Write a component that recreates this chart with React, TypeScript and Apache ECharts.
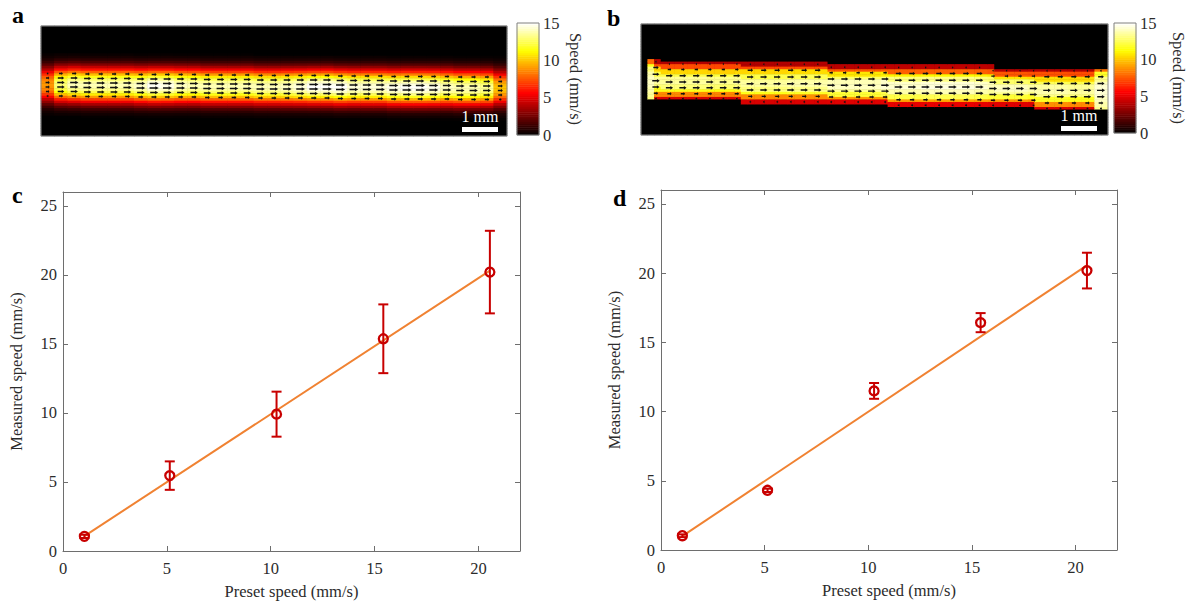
import React, { useEffect, useRef } from "react";
import * as echarts from "echarts";

const FONT = '"Liberation Serif", "Times New Roman", Times, serif';
const RED = "#c80000";
const ORANGE = "#f08232";
const AXIS = "#6e6e6e";
const TEXT = "#2b2b2b";

// ---------- Panels c and d (scatter + error bars + fit) ----------
const presetSpeed = [1.03, 5.14, 10.28, 15.42, 20.55];
const measuredC = [1.06, 5.46, 9.91, 15.37, 20.2];
const errorC = [0.12, 1.03, 1.63, 2.49, 2.99];
const measuredD = [1.03, 4.31, 11.49, 16.42, 20.18];
const errorD = [0.1, 0.12, 0.57, 0.69, 1.29];
const fitXC = [1.03, 20.55];
const fitYC = [1.08, 20.3];
const fitXD = [1.03, 20.55];
const fitYD = [1.0, 20.56];
const X_MAX = 22;
const Y_MAX = 26;
const TICK_STEP = 5;
const X_NAME = "Preset speed (mm/s)";
const Y_NAME = "Measured speed (mm/s)";

// ---------- Panels a and b (speed maps) ----------
const SPEED_MIN = 0;
const SPEED_MAX = 15;
const SPEED_STEP = 5;
const CBAR_NAME = "Speed (mm/s)";
const hotColors = ["#000000", "#550000", "#aa0000", "#ff0000", "#ff5500", "#ffaa00", "#ffff00", "#ffff80", "#ffffff"];

// panel a: peak speed per column (35 columns), band centre (px from image top), cross profile per 2.5 px
const aPeak = [9, 13, 14, 14, 14, 14, 14, 14.3, 15, 14.8, 14.2, 14, 14, 14, 14, 14, 14, 14, 14.2, 14.5, 15, 15, 15, 14.5, 14.5, 14.5, 14.8, 15, 15, 14.8, 14.2, 14, 14, 13.5, 10];
const aCenter = [59, 59, 59, 59.5, 59.5, 59.5, 59.5, 60, 60, 60, 60, 60, 60.5, 60.5, 60.5, 60.5, 61, 61, 61, 61, 61, 61, 61.5, 61.5, 61.5, 61.5, 62, 62, 62, 62, 62, 62.5, 62.5, 62.5, 62.5];
const aProfile = [1, 0.98, 0.94, 0.86, 0.74, 0.6, 0.46, 0.34, 0.23, 0.14, 0.08, 0.04, 0.02, 0];
const aArrowOffsets = [-11.5, -7, -2.5, 2, 6.5, 11];

// panel b: stepped channel walls, peak per column, profile across channel (10 bins)
const bPeak = [14.5, 14, 14, 14, 14, 13.8, 13.8, 14, 14, 14, 14, 14.2, 14.2, 14.2, 14.5, 14.5, 14.5, 14.5, 14.8, 14.8, 14.8, 15, 15, 15, 15, 14.8, 14.5, 14.5, 14.5, 14.2, 14.2, 14.2, 14, 14, 14.8];
const bTopStart = [4.5, 18, 186, 351];
const bTop = [35.3, 37.7, 41, 44.3];
const bBotStart = [4.5, 103, 248, 393];
const bBot = [76.7, 80, 83.3, 86.7];
const bProfile = [0.28, 0.52, 0.74, 0.88, 0.96, 0.97, 0.93, 0.83, 0.62, 0.34];
const bEdgeProfile = [0.55, 0.8, 0.9, 0.95, 0.97, 0.97, 0.97, 0.95, 0.93, 0.9];
const bLeftEdgeEnd = 11;
const bRightEdgeStart = 452;
const bArrowFrac = [0.06, 0.2, 0.36, 0.52, 0.67, 0.82, 0.95];
const bArrowCount = 34;

// ---------- layout ----------
const IMG_A = { left: 41, top: 26, width: 466, height: 110 };
const IMG_B = { left: 641, top: 24, width: 467, height: 111 };
const CB_A = { left: 517, top: 23, width: 22, height: 112 };
const CB_B = { left: 1114, top: 23, width: 22, height: 110 };
const PLOT_C = { left: 63, top: 192, width: 457, height: 359 };
const PLOT_D = { left: 661, top: 190, width: 456, height: 360 };
const ROW_H = 2.5;
const CBAR_ROWS = 60;
const ARROW = "path://M0,2.4 L10,2.4 L10,0 L16,4 L10,8 L10,5.6 L0,5.6 Z";

function profileAt(dist: number) {
  const t = Math.abs(dist) / ROW_H;
  const i = Math.floor(t);
  if (i >= aProfile.length - 1) return 0;
  const f = t - i;
  return aProfile[i] * (1 - f) + aProfile[i + 1] * f;
}

function buildA() {
  const cols = aPeak.length;
  const colW = IMG_A.width / cols;
  const rows = Math.round(IMG_A.height / ROW_H);
  const rowH = IMG_A.height / rows;
  const heat: number[][] = [];
  const arrows: number[][] = [];
  for (let c = 0; c < cols; c++) {
    for (let r = 0; r < rows; r++) {
      const y = (r + 0.5) * rowH;
      heat.push([c, r, aPeak[c] * profileAt(y - aCenter[c])]);
    }
    const xc = (c + 0.5) * colW;
    aArrowOffsets.forEach((o) => {
      const v = aPeak[c] * profileAt(o);
      const len = (v - 4) * 0.85;
      if (len > 1.5) arrows.push([xc, aCenter[c] + o, len]);
    });
  }
  return { heat, arrows, cols, rows };
}

function stepAt(starts: number[], vals: number[], x: number) {
  let v = vals[0];
  for (let i = 0; i < starts.length; i++) if (x >= starts[i]) v = vals[i];
  return v;
}

function speedB(x: number, y: number, useEdge: boolean) {
  if (x < bTopStart[0]) return 0;
  const top = stepAt(bTopStart, bTop, x);
  const bot = stepAt(bBotStart, bBot, x);
  if (y < top || y > bot) return 0;
  const f = (y - top) / (bot - top);
  const prof = useEdge && (x < bLeftEdgeEnd || x >= bRightEdgeStart) ? bEdgeProfile : bProfile;
  const bin = Math.min(prof.length - 1, Math.floor(f * prof.length));
  const pc = Math.min(bPeak.length - 1, Math.floor((x / IMG_B.width) * bPeak.length));
  return bPeak[pc] * prof[bin];
}

function buildB() {
  const cols = bPeak.length * 2;
  const colW = IMG_B.width / cols;
  const rows = Math.round(IMG_B.height / ROW_H);
  const rowH = IMG_B.height / rows;
  const heat: number[][] = [];
  for (let c = 0; c < cols; c++) {
    for (let r = 0; r < rows; r++) {
      heat.push([c, r, speedB((c + 0.5) * colW, (r + 0.5) * rowH, true)]);
    }
  }
  const arrows: number[][] = [];
  const spacing = (IMG_B.width - 22) / (bArrowCount - 1);
  for (let i = 0; i < bArrowCount; i++) {
    const x = 15 + i * spacing;
    const top = stepAt(bTopStart, bTop, x);
    const bot = stepAt(bBotStart, bBot, x);
    bArrowFrac.forEach((f) => {
      const y = top + f * (bot - top);
      const v = speedB(x, y, false);
      const len = (v - 2) * 0.65;
      if (len > 1) arrows.push([x, y, len]);
    });
  }
  return { heat, arrows, cols, rows };
}

function range(n: number) {
  return Array.from({ length: n }, (_, i) => String(i));
}

export default function App() {
  const ref = useRef<HTMLDivElement>(null);
  useEffect(() => {
    document.body.style.margin = "0";
    document.body.style.overflow = "hidden";
    if (!ref.current) return;
    const chart = echarts.init(ref.current, null, { renderer: "svg" });
    const A = buildA();
    const B = buildB();
    const cbar: number[][] = [];
    for (let i = 0; i < CBAR_ROWS; i++) cbar.push([0, i, SPEED_MIN + ((i + 0.5) * (SPEED_MAX - SPEED_MIN)) / CBAR_ROWS]);

    const hidden = { show: false };
    const labelStyle = { color: TEXT, fontSize: 16.5, fontFamily: FONT };

    const plotX = (gridIndex: number, main: boolean) => ({
      type: "value",
      gridIndex,
      min: 0,
      max: X_MAX,
      interval: TICK_STEP,
      position: main ? "bottom" : "top",
      axisLine: { show: true, onZero: false, lineStyle: { color: AXIS, width: 1 } },
      axisTick: { show: true, inside: true, length: 5, lineStyle: { color: AXIS } },
      axisLabel: main ? { ...labelStyle, margin: 9, showMaxLabel: false } : { show: false },
      splitLine: { show: false },
      name: main ? X_NAME : "",
      nameLocation: "middle",
      nameGap: 32,
      nameTextStyle: labelStyle,
    });
    const plotY = (gridIndex: number, main: boolean, gap: number) => ({
      type: "value",
      gridIndex,
      min: 0,
      max: Y_MAX,
      interval: TICK_STEP,
      position: main ? "left" : "right",
      axisLine: { show: true, onZero: false, lineStyle: { color: AXIS, width: 1 } },
      axisTick: { show: true, inside: true, length: 5, lineStyle: { color: AXIS } },
      axisLabel: main ? { ...labelStyle, margin: 6, showMaxLabel: false } : { show: false },
      splitLine: { show: false },
      name: main ? Y_NAME : "",
      nameLocation: "middle",
      nameGap: gap,
      nameTextStyle: labelStyle,
    });
    const cbarAxis = (gridIndex: number, gap: number) => ({
      type: "value",
      gridIndex,
      min: SPEED_MIN,
      max: SPEED_MAX,
      interval: SPEED_STEP,
      position: "right",
      axisLine: { show: false },
      axisTick: { show: false },
      axisLabel: { ...labelStyle, margin: 4 },
      splitLine: { show: false },
      name: CBAR_NAME,
      nameLocation: "middle",
      nameRotate: -90,
      nameGap: gap,
      nameTextStyle: labelStyle,
    });

    const errorBar = (xi: number, yi: number, means: number[], errs: number[]) => ({
      type: "custom",
      xAxisIndex: xi,
      yAxisIndex: yi,
      z: 4,
      encode: { x: 0, y: [1, 2] },
      data: presetSpeed.map((x, i) => [x, means[i] - errs[i], means[i] + errs[i]]),
      renderItem: (_p: any, api: any) => {
        const x = api.value(0);
        const lo = api.coord([x, api.value(1)]);
        const hi = api.coord([x, api.value(2)]);
        const cap = 5;
        const style = { stroke: RED, lineWidth: 2, fill: null };
        return {
          type: "group",
          children: [
            { type: "line", shape: { x1: lo[0], y1: lo[1], x2: hi[0], y2: hi[1] }, style },
            { type: "line", shape: { x1: lo[0] - cap, y1: lo[1], x2: lo[0] + cap, y2: lo[1] }, style },
            { type: "line", shape: { x1: hi[0] - cap, y1: hi[1], x2: hi[0] + cap, y2: hi[1] }, style },
          ],
        };
      },
    });
    const markers = (xi: number, yi: number, means: number[]) => ({
      type: "scatter",
      xAxisIndex: xi,
      yAxisIndex: yi,
      z: 5,
      symbol: "circle",
      symbolSize: 9,
      itemStyle: { color: "rgba(255,255,255,0)", borderColor: RED, borderWidth: 2.3, opacity: 1 },
      data: presetSpeed.map((x, i) => [x, means[i]]),
    });
    const fitLine = (xi: number, yi: number, xs: number[], ys: number[]) => ({
      type: "line",
      xAxisIndex: xi,
      yAxisIndex: yi,
      z: 3,
      symbol: "none",
      lineStyle: { color: ORANGE, width: 2 },
      data: xs.map((x, i) => [x, ys[i]]),
    });
    const arrowSeries = (xi: number, yi: number, data: number[][]) => ({
      type: "scatter",
      xAxisIndex: xi,
      yAxisIndex: yi,
      z: 3,
      symbol: ARROW,
      symbolSize: (v: number[]) => [v[2], 3.6],
      itemStyle: { color: "#111111", opacity: 1 },
      data,
    });
    const heat = (xi: number, yi: number, data: number[][]) => ({
      type: "heatmap",
      xAxisIndex: xi,
      yAxisIndex: yi,
      progressive: 0,
      emphasis: { disabled: true },
      data,
    });
    const frame = (b: any, color: string) => ({
      type: "rect",
      z: 100,
      shape: { x: b.left, y: b.top, width: b.width, height: b.height },
      style: { fill: "none", stroke: color, lineWidth: 1 },
    });
    // text placed by its alphabetic baseline (middle of em box sits ~0.34em above it)
    const letter = (t: string, x: number, baseline: number) => ({
      type: "text",
      x,
      y: baseline - 24 * 0.34,
      z: 100,
      style: { text: t, font: `bold 24px ${FONT}`, fill: "#000", verticalAlign: "middle", align: "left" },
    });
    const scaleBar = (cx: number, baseline: number, barTop: number) => [
      {
        type: "text",
        x: cx,
        y: baseline - 16 * 0.34,
        z: 101,
        style: { text: "1 mm", font: `16px ${FONT}`, fill: "#ffffff", align: "center", verticalAlign: "middle" },
      },
      { type: "rect", z: 101, shape: { x: cx - 18, y: barTop, width: 36, height: 5 }, style: { fill: "#ffffff" } },
    ];

    const option: any = {
      animation: false,
      backgroundColor: "#ffffff",
      grid: [
        { ...IMG_A, show: true, backgroundColor: "#000", borderWidth: 0 },
        { ...IMG_B, show: true, backgroundColor: "#000", borderWidth: 0 },
        { ...CB_A, show: false },
        { ...CB_B, show: false },
        { ...PLOT_C, show: false },
        { ...PLOT_D, show: false },
      ],
      xAxis: [
        { type: "category", gridIndex: 0, data: range(A.cols), position: "bottom", ...hidden },
        { type: "value", gridIndex: 0, min: 0, max: IMG_A.width, position: "top", ...hidden },
        { type: "category", gridIndex: 1, data: range(B.cols), position: "bottom", ...hidden },
        { type: "value", gridIndex: 1, min: 0, max: IMG_B.width, position: "top", ...hidden },
        { type: "category", gridIndex: 2, data: ["0"], ...hidden },
        { type: "category", gridIndex: 3, data: ["0"], ...hidden },
        plotX(4, true),
        plotX(4, false),
        plotX(5, true),
        plotX(5, false),
      ],
      yAxis: [
        { type: "category", gridIndex: 0, data: range(A.rows), inverse: true, position: "left", ...hidden },
        { type: "value", gridIndex: 0, min: 0, max: IMG_A.height, inverse: true, position: "right", ...hidden },
        { type: "category", gridIndex: 1, data: range(B.rows), inverse: true, position: "left", ...hidden },
        { type: "value", gridIndex: 1, min: 0, max: IMG_B.height, inverse: true, position: "right", ...hidden },
        { type: "category", gridIndex: 2, data: range(CBAR_ROWS), position: "left", ...hidden },
        cbarAxis(2, 28),
        { type: "category", gridIndex: 3, data: range(CBAR_ROWS), position: "left", ...hidden },
        cbarAxis(3, 34),
        plotY(4, true, 38),
        plotY(4, false, 0),
        plotY(5, true, 38),
        plotY(5, false, 0),
      ],
      visualMap: {
        type: "continuous",
        show: false,
        min: SPEED_MIN,
        max: SPEED_MAX,
        dimension: 2,
        seriesIndex: [0, 2, 4, 5],
        inRange: { color: hotColors },
      },
      series: [
        heat(0, 0, A.heat),
        arrowSeries(1, 1, A.arrows),
        heat(2, 2, B.heat),
        arrowSeries(3, 3, B.arrows),
        heat(4, 4, cbar),
        heat(5, 6, cbar),
        fitLine(6, 8, fitXC, fitYC),
        errorBar(6, 8, measuredC, errorC),
        markers(6, 8, measuredC),
        fitLine(8, 10, fitXD, fitYD),
        errorBar(8, 10, measuredD, errorD),
        markers(8, 10, measuredD),
      ],
      graphic: [
        frame(IMG_A, "#8c8c8c"),
        frame(IMG_B, "#8c8c8c"),
        frame(CB_A, "#808080"),
        frame(CB_B, "#808080"),
        letter("a", 12, 23),
        letter("b", 607, 26),
        letter("c", 12, 203),
        letter("d", 613, 206),
        ...scaleBar(480, 122, 127),
        ...scaleBar(1079, 121, 126),
      ],
    };
    chart.setOption(option);
    return () => chart.dispose();
  }, []);
  return <div ref={ref} style={{ width: 1193, height: 605 }} />;
}
